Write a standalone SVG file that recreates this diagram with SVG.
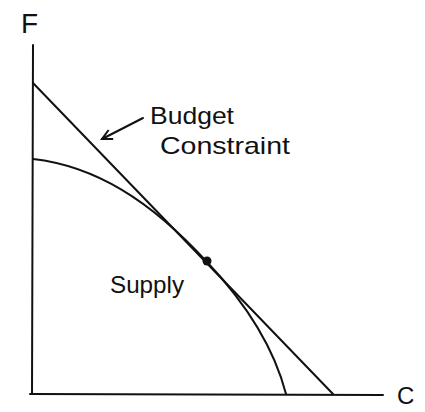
<svg xmlns="http://www.w3.org/2000/svg" width="425" height="412" viewBox="0 0 425 412">
<defs>
<style>
.ln{fill:none;stroke:#111;stroke-width:2;stroke-linecap:round;stroke-linejoin:round}
.tx{font-family:"Liberation Sans",Arial,sans-serif;fill:#111}
</style>
<marker id="ah" markerWidth="14" markerHeight="14" refX="12" refY="7" orient="auto" markerUnits="userSpaceOnUse">
<path d="M2,2 L12,7 L2,12" fill="none" stroke="#111" stroke-width="2"/>
</marker>
</defs>
<rect width="425" height="412" fill="#fff"/>
<g id="axes">
<path class="ln" d="M33,45 L32,394"/>
<path class="ln" d="M30,394 L383,395"/>
<text class="tx" x="21" y="33" font-size="28">F</text>
<text class="tx" x="397" y="404" font-size="24">C</text>
</g>
<g id="budget-constraint">
<path class="ln" d="M33,83 L333,394"/>
</g>
<g id="supply-curve">
<path class="ln" d="M33,159 C95,166 150,200 207,262 C240,297 272,340 286,394"/>
<circle cx="207" cy="261" r="4.5" fill="#111"/>
</g>
<g id="labels">
<text class="tx" x="150" y="124" font-size="24" textLength="84" lengthAdjust="spacingAndGlyphs">Budget</text>
<text class="tx" x="160" y="154" font-size="24" textLength="130" lengthAdjust="spacingAndGlyphs">Constraint</text>
<text class="tx" x="110" y="293" font-size="24" textLength="74" lengthAdjust="spacingAndGlyphs">Supply</text>
</g>
<g id="connectors">
<path class="ln" d="M143,118 L102,139" marker-end="url(#ah)"/>
</g>
</svg>
